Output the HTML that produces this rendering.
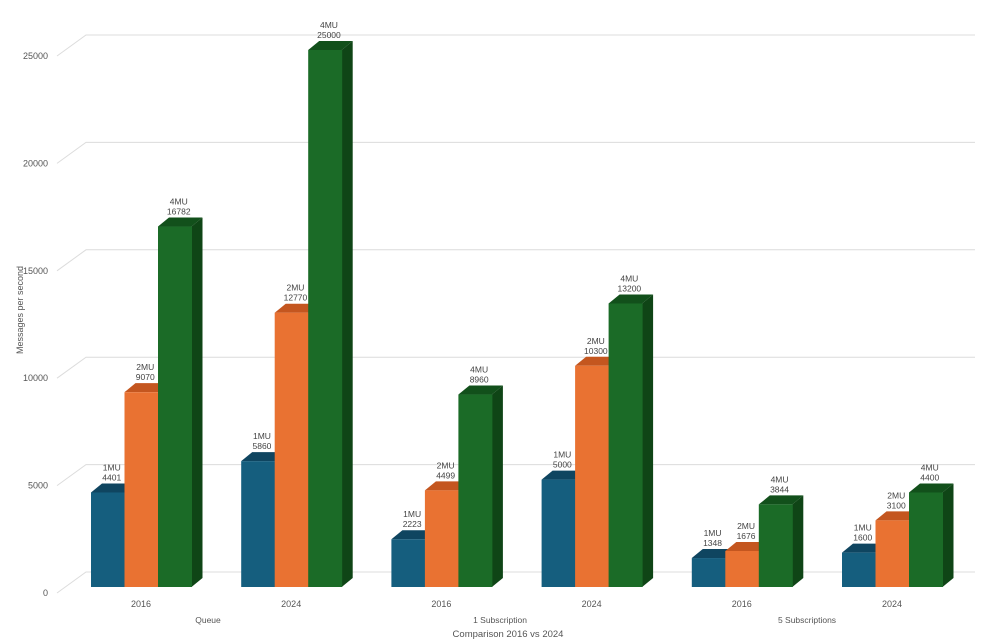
<!DOCTYPE html>
<html><head><meta charset="utf-8"><style>
html,body{margin:0;padding:0;background:#fff;}
svg{display:block;font-family:"Liberation Sans",sans-serif;}
</style></head><body>
<svg id="c" width="999" height="641" xmlns="http://www.w3.org/2000/svg"></svg>
<script>
const s=document.getElementById('c');let h='';
const base=587,k=0.02148,dx=11,dy=9;
// gridlines
for(let i=0;i<=5;i++){const yf=593-i*107.4,yb=yf-21;
h+=`<polyline points="57,${yf} 86,${yb} 975,${yb}" fill="none" stroke="#dcdcdc" stroke-width="1"/>`;
h+=`<text x="48" y="${yf+3}" font-size="9" fill="#555" text-anchor="end">${i*5000}</text>`;}
const data=[[4401,9070,16782],[5860,12770,25000],[2223,4499,8960],[5000,10300,13200],[1348,1676,3844],[1600,3100,4400]];
const cols=[["#155e7e","#0f4560","#0e4058"],["#e97232","#c4561f","#b84f1c"],["#1b6b27","#12501b","#0f4516"]];
const lab=["1MU","2MU","4MU"];
data.forEach((g,gi)=>{const x0=91+gi*150.2,w=33.5;
h+=`<text x="${x0+50}" y="607" font-size="9" fill="#555" text-anchor="middle">${gi%2?2024:2016}</text>`;
g.forEach((v,j)=>{const x=x0+j*w,t=base-v*k,c=cols[j];
h+=`<polygon points="${x},${t} ${x+dx},${t-dy} ${x+w+dx},${t-dy} ${x+w},${t}" fill="${c[1]}"/>`;
h+=`<polygon points="${x+w},${t} ${x+w+dx},${t-dy} ${x+w+dx},${base-dy} ${x+w},${base}" fill="${c[2]}"/>`;
h+=`<rect x="${x}" y="${t}" width="${w+0.5}" height="${base-t}" fill="${c[0]}"/>`;
h+=`<text x="${x+w/2+4}" y="${t-22}" font-size="8.5" fill="#444" text-anchor="middle">${lab[j]}</text>`;
h+=`<text x="${x+w/2+4}" y="${t-12}" font-size="8.5" fill="#444" text-anchor="middle">${v}</text>`;
});});
h+=`<text x="208" y="623" font-size="8.5" fill="#555" text-anchor="middle">Queue</text>`;
h+=`<text x="500" y="623" font-size="8.5" fill="#555" text-anchor="middle">1 Subscription</text>`;
h+=`<text x="807" y="623" font-size="8.5" fill="#555" text-anchor="middle">5 Subscriptions</text>`;
h+=`<text x="508" y="637" font-size="9.5" fill="#555" text-anchor="middle">Comparison 2016 vs 2024</text>`;
h+=`<text transform="translate(23,310) rotate(-90)" font-size="9" fill="#555" text-anchor="middle">Messages per second</text>`;
s.innerHTML=h;
</script>
</body></html>
